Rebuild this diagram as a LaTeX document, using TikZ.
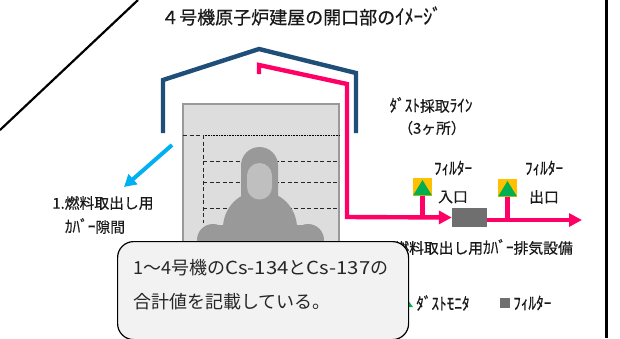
\documentclass[tikz,border=0pt]{standalone}
\usepackage{fontspec}
\setmainfont{Noto Sans CJK JP}
\newfontfamily\mdf[FakeBold=0.5]{Noto Sans CJK JP}
\usetikzlibrary{arrows.meta,shapes.geometric}
\definecolor{bluebld}{HTML}{1F4E79}
\definecolor{pinkline}{HTML}{FF0066}
\definecolor{skyarrow}{HTML}{00B0F0}
\definecolor{monitorgreen}{HTML}{00B050}
\definecolor{monitorgold}{HTML}{FFC000}
\definecolor{filtergray}{HTML}{6F6F6F}
\definecolor{roomgray}{HTML}{DDDDDD}
\definecolor{vesselgray}{HTML}{999999}
\definecolor{coregray}{HTML}{BFBFBF}
\definecolor{notegray}{HTML}{F2F2F2}
\newcommand{\hk}[1]{\scalebox{1.03}[1.15]{#1}}
\newcommand{\lat}[1]{\scalebox{1.13}[1]{#1}}
\tikzset{
  lbl/.style={inner sep=0pt,text=black!90,font=\mdf\fontsize{14.8}{16}\selectfont},
  ttl/.style={inner sep=0pt,text=black!90,font=\mdf\fontsize{18}{20}\selectfont},
  notetext/.style={inner sep=0pt,text=black!85,font=\fontsize{18}{20}\selectfont,anchor=west},
  building/.style={draw=bluebld,line width=4.4pt,line join=miter},
  pipe/.style={draw=pinkline,line width=4.4pt,line join=miter},
  flow/.style={pipe,-{Triangle[length=13pt,width=13pt]}},
  stem/.style={draw=pinkline,line width=5pt},
  hdash/.style={draw=black!85,line width=.8pt,dash pattern=on 4pt off 2.5pt},
  sensor/.style={draw=none,fill=monitorgold,minimum size=18.5pt,inner sep=0pt},
  filterbox/.style={draw=none,fill=filtergray,inner sep=0pt},
}
\newcommand{\sensortri}[1]{\fill[monitorgreen] ([yshift=1pt]#1.south west) -- ([yshift=-2.5pt]#1.north) -- ([yshift=1pt]#1.south east) -- cycle;}
\begin{document}
\begin{tikzpicture}[x=1pt,y=-1pt]
\useasboundingbox (0,0) rectangle (620,338);
\fill[white] (0,0) rectangle (620,338);
% frame fragments
\coordinate (diagA) at (0,130);
\coordinate (diagB) at (138,0);
\coordinate (edgeA) at (606.5,0);
\coordinate (edgeB) at (606.5,338);
\draw[black,line width=2.2pt] (diagA) -- (diagB);
\draw[black,line width=3pt] (edgeA) -- (edgeB);
% title
\node[ttl,anchor=west] (title) at (161,16) {４号機原子炉建屋の開口部の\hk{ｲﾒｰｼﾞ}};
% room
\fill[roomgray,draw=vesselgray,line width=1.2pt] (183,104) rectangle (339,345);
\draw[black,line width=.6pt,densely dotted] (203,135) -- (340,135);
\draw[hdash] (183,135) -- (203,135);
\draw[hdash] (203,135) -- (203,223);
\draw[hdash] (203,161) -- (337,161);
\draw[hdash] (203,182) -- (337,182);
\draw[hdash] (203,208) -- (337,208);
% reactor
\fill[vesselgray] (241,215) -- (241,165.5) arc[start angle=180,end angle=360,radius=18.5] -- (278,215) -- cycle;
\fill[vesselgray] (260,228) circle[radius=37];
\fill[vesselgray] (213,240) circle[radius=16];
\fill[vesselgray] (308,240) circle[radius=16];
\fill[vesselgray] (215,225) rectangle (235,231);
\fill[vesselgray] (285,225) rectangle (305,231);
\fill[coregray] (247,175.5) arc[start angle=180,end angle=360,radius=12.5] -- (272,187) arc[start angle=0,end angle=180,radius=12.5] -- cycle;
% building
\coordinate (bA) at (163,133);
\coordinate (bB) at (163,80);
\coordinate (bC) at (259,49);
\coordinate (bD) at (356,73);
\coordinate (bE) at (356,133);
\draw[building] (bA) -- (bB) -- (bC) -- (bD) -- (bE);
% monitoring line
\node[filterbox,minimum width=35pt,minimum height=19pt] (filter) at (469.5,217.5) {};
\coordinate (pA) at (259,74);
\coordinate (pB) at (259,65);
\coordinate (pC) at (347,84);
\coordinate (pD) at (347,217);
\draw[flow] (pA) -- (pB) -- (pC) -- (pD) -- (filter.west);
\coordinate (outEnd) at (582,220);
\draw[flow] (filter.east |- outEnd) -- (outEnd);
% sensors
\node[sensor] (s1) at (422.5,187) {};
\node[sensor] (s2) at (507.5,188) {};
\sensortri{s1}
\sensortri{s2}
\draw[stem] (s1.south) -- (s1.south |- pD);
\draw[stem] (s2.south) -- (s2.south |- outEnd);
% blue arrow
\coordinate (blueA) at (172,145);
\coordinate (blueB) at (124,187);
\draw[skyarrow,line width=4pt,-{Triangle[length=12pt,width=13pt]}] (blueA) -- (blueB);
% labels
\node[lbl] (gap1) at (103,203) {1.燃料取出し用};
\node[lbl] (gap2) at (95,226) {\hk{ｶﾊﾞｰ}隙間};
\node[lbl] (dust1) at (431,105) {\hk{ﾀﾞｽﾄ}採取\hk{ﾗｲﾝ}};
\node[lbl] (dust2) at (432,128) {（3ヶ所）};
\node[lbl] (f1) at (453,168) {\hk{ﾌｨﾙﾀｰ}};
\node[lbl] (f2) at (544,168) {\hk{ﾌｨﾙﾀｰ}};
\node[lbl] (in) at (453,197) {入口};
\node[lbl] (out) at (544,197) {出口};
\node[lbl,anchor=east] (exh) at (573,247) {燃料取出し用\hk{ｶﾊﾞｰ}排気設備};
% legend
\fill[monitorgreen] (400,307) -- (407,299) -- (413,307) -- cycle;
\node[lbl,anchor=west] (lg1) at (416,303) {\hk{ﾀﾞｽﾄﾓﾆﾀ}};
\node[filterbox,minimum width=10pt,minimum height=10pt] (lgbox) at (505,303) {};
\node[lbl,anchor=west] (lg2) at (513,303) {\hk{ﾌｨﾙﾀｰ}};
% note
\node[draw=black,fill=notegray,line width=1.2pt,rounded corners=16pt,minimum width=291pt,minimum height=98pt,anchor=north west,inner sep=0pt] (note) at (117,241) {};
\node[notetext] (n1) at (133,268) {1～4号機の\lat{Cs-134}と\lat{Cs-137}の};
\node[notetext] (n2) at (133,302) {合計値を記載している。};
\end{tikzpicture}
\end{document}
